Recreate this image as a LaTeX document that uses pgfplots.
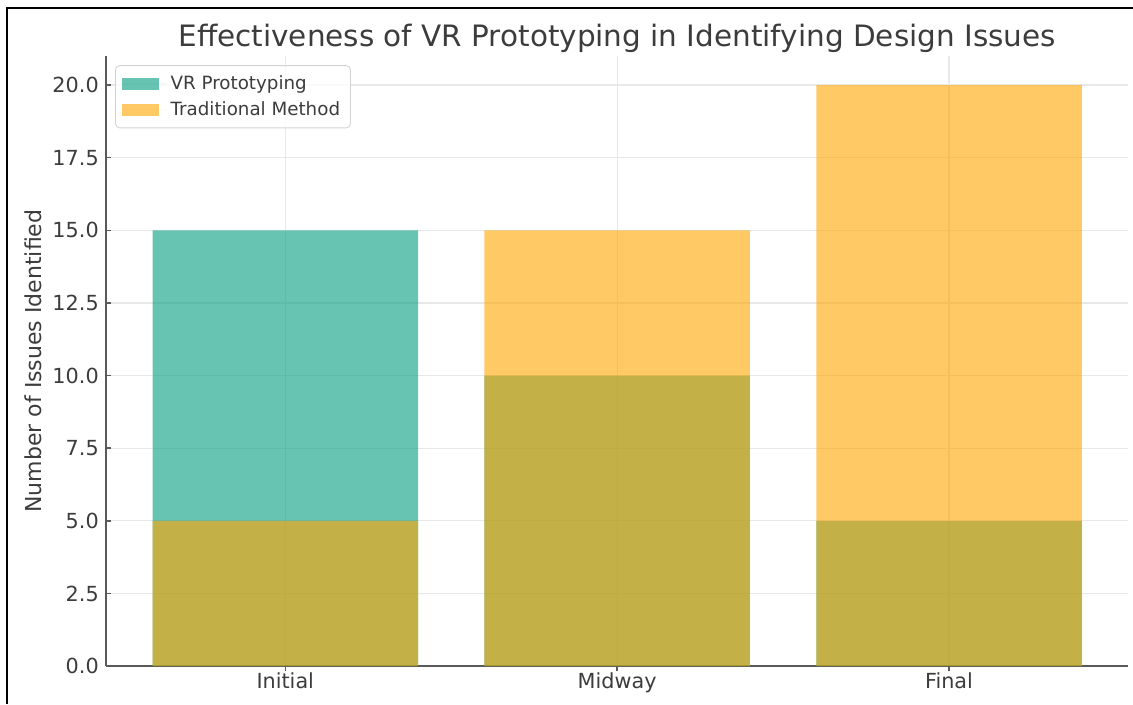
\documentclass[border=0pt]{standalone}
\usepackage{pgfplots}
\pgfplotsset{compat=1.18}
\usepackage{fontspec}
\setmainfont{DejaVu Sans}
\definecolor{vrteal}{RGB}{3,157,127}
\definecolor{tradorange}{RGB}{255,165,0}
\definecolor{txtgray}{RGB}{60,60,60}
\definecolor{spinegray}{RGB}{90,90,90}
\definecolor{gridgray}{RGB}{232,232,232}
\begin{document}
\begin{tikzpicture}
\useasboundingbox (-50.9bp,-18.2bp) rectangle (492.9bp,319.7bp);
\draw[black,line width=1bp] (-47.5bp,-18.2bp) -- (-47.5bp,315.9bp) -- (492.9bp,315.9bp);
\begin{axis}[
  at={(0,0)}, anchor=south west,
  scale only axis,
  width=490.6bp, height=292.8bp,
  xmin=-0.54, xmax=2.54, ymin=0, ymax=21,
  xtick={0,1,2}, xticklabels={Initial,Midway,Final},
  ytick={0,2.5,...,20},
  /pgf/number format/assume math mode=true,
  yticklabel={\pgfmathprintnumber[fixed,fixed zerofill,precision=1]{\tick}},
  ticklabel style={font=\fontsize{10}{12}\selectfont, text=txtgray},
  xticklabel style={yshift=2.8bp},
  tick align=inside,
  major tick length=2.5bp,
  tick style={spinegray, line width=0.7bp},
  axis x line*=bottom, axis y line*=left,
  axis line style={spinegray, line width=1bp, -},
  grid=major,
  major grid style={gridgray, line width=0.6bp},
  every axis title shift=0pt,
  title={Effectiveness of VR Prototyping in Identifying Design Issues},
  title style={font=\fontsize{14.2}{16}\selectfont, text=txtgray, at={(axis description cs:0.5,1)}, anchor=base, yshift=4.8bp},
  ylabel={Number of Issues Identified},
  ylabel style={font=\fontsize{10.6}{12}\selectfont, text=txtgray, at={(axis description cs:-0.0714,0.5)}, rotate=0, anchor=center},
  legend style={at={(axis description cs:0.0088,0.985)}, anchor=north west,
    font=\fontsize{8.8}{10}\selectfont, text=txtgray,
    draw=gray!35, rounded corners=2bp, fill=white, fill opacity=0.8, text opacity=1,
    row sep=0.4bp, inner xsep=3bp, inner ysep=2.6bp},
  legend cell align=left,
  ybar, bar shift=0pt, bar width=0.8,
]
\addplot[draw=none, fill=vrteal, fill opacity=0.6,
  legend image code/.code={\fill[vrteal, fill opacity=0.6, sharp corners] (0bp,-2.9bp) rectangle (17.8bp,2.9bp); \path (0bp,0bp) -- (21.5bp,0bp);}]
  coordinates {(0,15) (1,10) (2,5)};
\addlegendentry{VR Prototyping}
\addplot[draw=none, fill=tradorange, fill opacity=0.6,
  legend image code/.code={\fill[tradorange, fill opacity=0.6, sharp corners] (0bp,-2.9bp) rectangle (17.8bp,2.9bp); \path (0bp,0bp) -- (21.5bp,0bp);}]
  coordinates {(0,5) (1,15) (2,20)};
\addlegendentry{Traditional Method}
\end{axis}
\end{tikzpicture}
\end{document}
